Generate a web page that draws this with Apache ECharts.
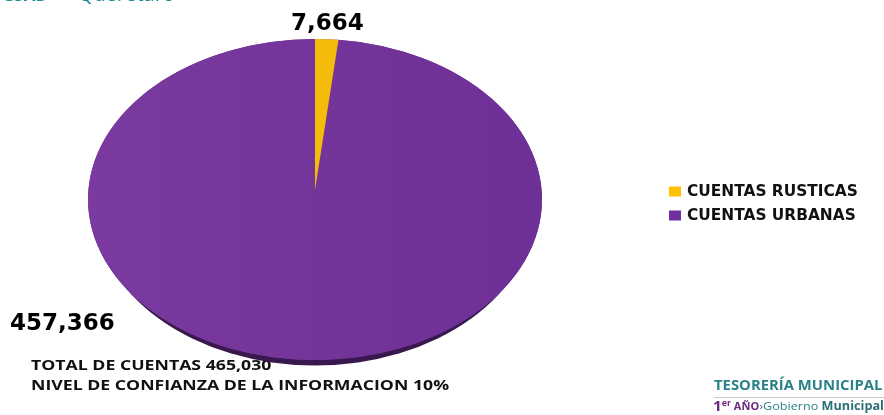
<!DOCTYPE html>
<html><head><meta charset="utf-8">
<style>html,body{margin:0;padding:0;background:#fff}#c{width:884px;height:415px}</style>
<script src="https://cdn.jsdelivr.net/npm/echarts@6/dist/echarts.min.js"></script>
</head><body><div id="c"></div>
<script>
const categories = ['CUENTAS RUSTICAS', 'CUENTAS URBANAS'];
const accountValues = [7664, 457366];
const sliceColors = ['#FFC000', '#7030A0'];
const noteLines = ['TOTAL DE CUENTAS 465,030', 'NIVEL DE CONFIANZA DE LA INFORMACION 10%'];

const total = accountValues.reduce((a, b) => a + b, 0);
const fmt = v => v.toLocaleString('en-US');
const CX = 315, CY = 199.5, RX = 227, RY = 160.5, APEX_Y = 190;

function sliceAngles(i) {
  let before = 0;
  for (let k = 0; k < i; k++) before += accountValues[k];
  const start = -Math.PI / 2 + before / total * Math.PI * 2;
  return [start, start + accountValues[i] / total * Math.PI * 2];
}
function sector(angles, y, r, rx, style) {
  return { type: 'sector', x: CX, y: y, scaleX: rx / r, scaleY: 1,
    shape: { cx: 0, cy: 0, r0: 0, r: r, startAngle: angles[0], endAngle: angles[1], clockwise: true },
    style: style };
}
const urbanFill = { type: 'linear', x: 0, y: 0, x2: 1, y2: 0, colorStops: [
  { offset: 0, color: '#7A3A9F' }, { offset: 1, color: '#6E2F96' } ] };
const fullTurn = [0, Math.PI * 2];

function renderSlice(i) {
  return function () {
    const a = sliceAngles(i);
    if (i === 0) {
      return sector(a, APEX_Y, APEX_Y - (CY - RY), RX, { fill: '#F5BB0A' });
    }
    return { type: 'group', children: [
      sector(fullTurn, CY + 5.5, RY, RX - 6, { fill: '#38184F' }),
      sector(fullTurn, CY, RY, RX, { fill: urbanFill }),
      sector(a, CY, RY, RX, { fill: urbanFill })
    ]};
  };
}
const bigFont = { fontFamily: 'DejaVu Sans', fontWeight: 'bold', fontSize: 23, fill: '#000' };
const noteFont = { fontFamily: 'Open Sans', fontWeight: 'bold', fontSize: 14.5, fill: '#111' };
const NOTE_STRETCH = 1.22;

const chart = echarts.init(document.getElementById('c'), null, { renderer: 'canvas' });
chart.setOption({
  animation: false,
  backgroundColor: '#fff',
  legend: {
    left: 664, top: 179, orient: 'vertical', itemWidth: 12, itemHeight: 10, itemGap: 9,
    icon: 'rect', selectedMode: false, data: categories,
    textStyle: { fontFamily: 'DejaVu Sans', fontWeight: 'bold', fontSize: 15.4, color: '#111', padding: [0, 0, 0, 1] }
  },
  series: categories.map((name, i) => ({
    type: 'custom', name, coordinateSystem: 'none', z: 6 - i,
    itemStyle: { color: sliceColors[i] },
    data: [[accountValues[i]]],
    renderItem: renderSlice(i),
    silent: true
  })),
  graphic: [
    { type: 'text', left: 291, top: 13, style: Object.assign({ text: fmt(accountValues[0]) }, bigFont) },
    { type: 'text', left: 10, top: 313, style: Object.assign({ text: fmt(accountValues[1]) }, bigFont) },
    { type: 'text', x: 31, y: 358, scaleX: NOTE_STRETCH, style: Object.assign({ text: noteLines[0] }, noteFont) },
    { type: 'text', x: 31, y: 378, scaleX: NOTE_STRETCH, style: Object.assign({ text: noteLines[1] }, noteFont) },
    { type: 'text', x: 2, y: -12, style: { text: 'GSAD', fontFamily: 'Open Sans', fontWeight: 'bold', fontSize: 17, fill: '#1F8A8C' } },
    { type: 'text', x: 78, y: -15, style: { text: 'Querétaro', fontFamily: 'Open Sans', fontSize: 20, fill: '#1F8A8C' } },
    { type: 'text', x: 714, y: 379, scaleX: 1.1, style: { text: 'TESORERÍA MUNICIPAL', fontFamily: 'Open Sans', fontWeight: 'bold', fontSize: 13.5, fill: '#2A8288' } },
    { type: 'rect', shape: { x: 714, y: 397, width: 170, height: 1 }, style: { fill: '#C8C8C8' } },
    { type: 'text', x: 713, y: 400, scaleX: 1.1, style: {
      text: '{a|1}{b|er}{c| AÑO}{d|›Gobierno }{e|Municipal}',
      rich: {
        a: { fontFamily: 'Open Sans', fontWeight: 'bold', fontSize: 14, fill: '#6B2A7E' },
        b: { fontFamily: 'Open Sans', fontWeight: 'bold', fontSize: 8, fill: '#6B2A7E', verticalAlign: 'top' },
        c: { fontFamily: 'Open Sans', fontWeight: 'bold', fontSize: 10, fill: '#6B2A7E' },
        d: { fontFamily: 'Open Sans', fontSize: 11.5, fill: '#2A8288' },
        e: { fontFamily: 'Open Sans', fontWeight: 'bold', fontSize: 11.5, fill: '#2A6F78' }
      } } }
  ]
});
</script></body></html>
